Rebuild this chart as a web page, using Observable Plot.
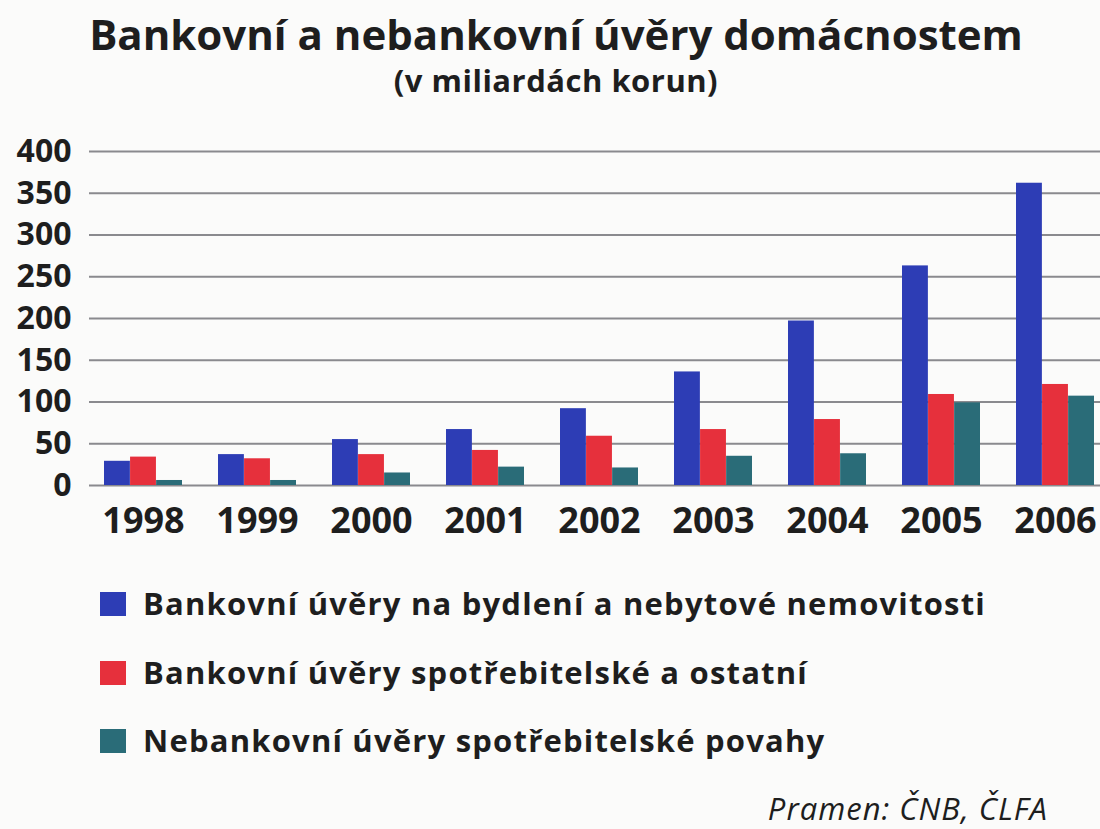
<!DOCTYPE html>
<html>
<head>
<meta charset="utf-8">
<script src="https://cdn.jsdelivr.net/npm/d3@7"></script>
<script src="https://cdn.jsdelivr.net/npm/@observablehq/plot@0.6"></script>
<style>
  html, body { margin: 0; padding: 0; }
  body { width: 1100px; height: 829px; position: relative; background: #fbfbfa; font-family: "Open Sans", sans-serif; color: #1e1e1e; overflow: hidden; }
  .title { position: absolute; left: 0; width: 1112px; text-align: center; font-weight: 700; line-height: 1; white-space: nowrap; }
  #t1 { top: 13px; font-size: 42px; }
  #t2 { top: 65px; font-size: 31px; letter-spacing: 0.5px; }
  #chart { position: absolute; left: 0; top: 105px; }
  .leg { position: absolute; left: 100px; display: flex; align-items: center; font-weight: 700; font-size: 31px; letter-spacing: 1.2px; line-height: 1; white-space: nowrap; }
  .leg .sw { width: 26px; height: 24px; margin-right: 17px; }
  #src { position: absolute; right: 52px; top: 793px; font-style: italic; font-size: 31px; letter-spacing: 1px; line-height: 1; }
</style>
</head>
<body>
<div class="title" id="t1">Bankovní a nebankovní úvěry domácnostem</div>
<div class="title" id="t2">(v miliardách korun)</div>
<div id="chart"></div>
<div id="legend"></div>
<div id="src">Pramen: ČNB, ČLFA</div>
<script>
const years = ["1998","1999","2000","2001","2002","2003","2004","2005","2006"];
const seriesNames = [
  "Bankovní úvěry na bydlení a nebytové nemovitosti",
  "Bankovní úvěry spotřebitelské a ostatní",
  "Nebankovní úvěry spotřebitelské povahy"
];
const housing  = [29, 37, 55, 67, 92, 136, 197, 263, 362];
const consumer = [34, 32, 37, 42, 59, 67, 79, 109, 121];
const nonbank  = [6, 6, 15, 22, 21, 35, 38, 99, 107];
const yTicks = [0, 50, 100, 150, 200, 250, 300, 350, 400];
const colors = ["#2d3db5", "#e6303c", "#2a6c78"];

const seriesValues = [housing, consumer, nonbank];
const table = seriesValues.flatMap((vals, s) =>
  years.map((year, i) => ({year, series: seriesNames[s], value: vals[i], s})));

const xRange = [100, 1098];
const padInner = 0.32;
const step = (xRange[1] - xRange[0]) / (years.length - padInner);
const bw = step * (1 - padInner);
const sub = bw / 3;

const barMarks = seriesNames.map((name, s) =>
  Plot.barY(table.filter(d => d.s === s), {
    x: "year", y: "value", fill: colors[s],
    insetLeft: s * sub, insetRight: (2 - s) * sub
  }));

const plot = Plot.plot({
  width: 1100,
  height: 440,
  marginLeft: 89,
  marginRight: 0,
  marginTop: 46,
  marginBottom: 60,
  style: {background: "transparent", color: "#1e1e1e", fontFamily: "Open Sans, sans-serif"},
  x: {domain: years, range: xRange, paddingInner: padInner, paddingOuter: 0, label: null},
  y: {domain: [0, 400], label: null},
  marks: [
    Plot.ruleY(yTicks, {stroke: "#8a8a8e", strokeWidth: 2}),
    ...barMarks,
    Plot.axisY({ticks: yTicks, tickSize: 0, tickPadding: 18, fontSize: 32, fontWeight: "bold", tickFormat: d => String(d), label: null}),
    Plot.axisX({tickSize: 0, tickPadding: 22, fontSize: 36, fontWeight: "bold", letterSpacing: -1, label: null})
  ]
});
plot.querySelectorAll("text").forEach(t => t.setAttribute("fill", "#1e1e1e"));
document.getElementById("chart").appendChild(plot);

const legendTops = [588, 657, 725];
const leg = document.getElementById("legend");
seriesNames.forEach((name, s) => {
  const row = document.createElement("div");
  row.className = "leg";
  row.style.top = legendTops[s] + "px";
  const sw = document.createElement("div");
  sw.className = "sw";
  sw.style.background = colors[s];
  const tx = document.createElement("span");
  tx.textContent = name;
  row.appendChild(sw);
  row.appendChild(tx);
  leg.appendChild(row);
});
</script>
</body>
</html>
